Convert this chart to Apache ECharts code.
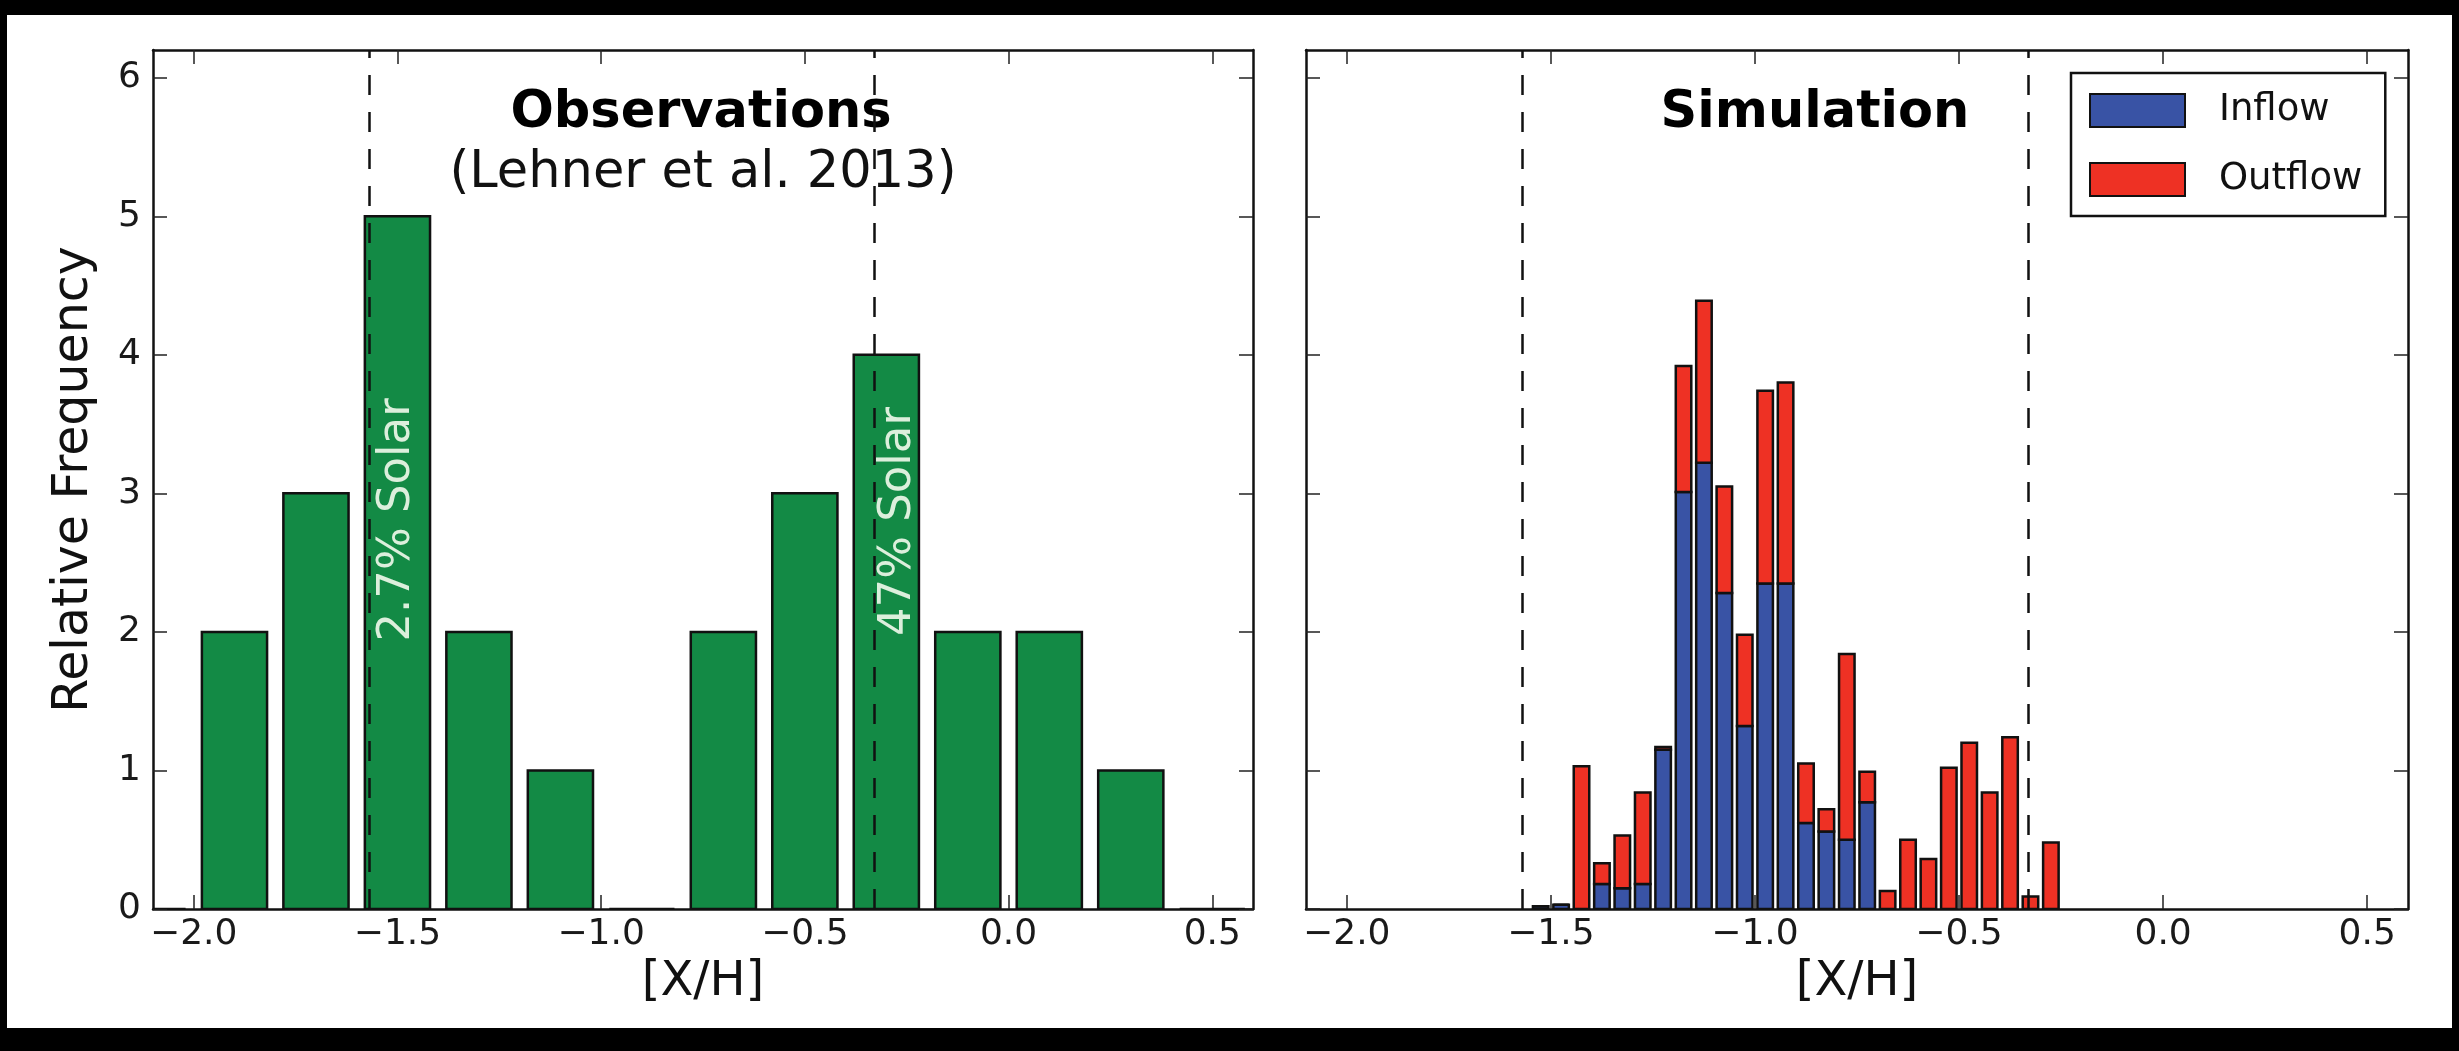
<!DOCTYPE html>
<html>
<head>
<meta charset="utf-8">
<title>Observations vs Simulation</title>
<script src="https://cdn.jsdelivr.net/npm/echarts@6/dist/echarts.min.js"></script>
<style>
    html, body { margin: 0; padding: 0; background: #000; }
    #paper { position: absolute; left: 7px; top: 15px; width: 2445px; height: 1013px; background: #fff; }
    #chart { position: absolute; left: 0; top: 0; width: 2459px; height: 1051px; }
</style>
</head>
<body>
<div id="paper"></div>
<div id="chart"></div>
<script>
// observations histogram (bins of 0.2 in [X/H])
var obsCenters = [-2.1, -1.9, -1.7, -1.5, -1.3, -1.1, -0.9, -0.7, -0.5, -0.3, -0.1, 0.1, 0.3, 0.5];
var obsCounts = [0, 2, 3, 5, 2, 1, 0, 2, 3, 4, 2, 2, 1, 0];

// simulation histogram (bins of 0.05), inflow stacked under outflow
var simCenters = [-1.525, -1.475, -1.425, -1.375, -1.325, -1.275, -1.225, -1.175, -1.125, -1.075,
    -1.025, -0.975, -0.925, -0.875, -0.825, -0.775, -0.725, -0.675, -0.625, -0.575,
    -0.525, -0.475, -0.425, -0.375, -0.325, -0.275];
var simInflow = [0.02, 0.03, 0, 0.18, 0.15, 0.18, 1.15, 3.01, 3.22, 2.28,
    1.32, 2.35, 2.35, 0.62, 0.56, 0.50, 0.77, 0, 0, 0,
    0, 0, 0, 0, 0, 0];
var simOutflow = [0, 0, 1.03, 0.15, 0.38, 0.66, 0.02, 0.91, 1.17, 0.77,
    0.66, 1.39, 1.45, 0.43, 0.16, 1.34, 0.22, 0.13, 0.50, 0.36,
    1.02, 1.20, 0.84, 1.24, 0.09, 0.48];

var xTicks = [-2.0, -1.5, -1.0, -0.5, 0.0, 0.5];
var yTicks = [0, 1, 2, 3, 4, 5, 6];

// solar reference lines
var solarLines = [-1.569, -0.328];
var solarLabels = ['2.7% Solar', '47% Solar'];
var solarLabelX = [-1.50, -0.27];
var solarLabelY = [1.93, 1.97];

var FONT = '"DejaVu Sans", "Liberation Sans", sans-serif';
var obsBarWidth = 0.16;
var simBarWidth = 0.038;

function fmtX(v) {
    return (v < 0 ? '\u2212' : '') + Math.abs(v).toFixed(1);
}

function barItem(width) {
    return function (params, api) {
        var x = api.value(0);
        var tl = api.coord([x - width / 2, api.value(2)]);
        var br = api.coord([x + width / 2, api.value(1)]);
        return {
            type: 'rect',
            shape: {x: tl[0], y: tl[1], width: br[0] - tl[0], height: br[1] - tl[1]},
            style: {fill: api.visual('color'), stroke: '#111', lineWidth: 2.5}
        };
    };
}

function xAxisFor(gridIndex, pos) {
    var bottom = pos === 'bottom';
    return {
        type: 'value',
        gridIndex: gridIndex,
        position: pos,
        min: -2.1,
        max: 0.6,
        axisLine: {show: true, onZero: false, lineStyle: {color: '#111', width: 2.5}},
        axisTick: {show: true, inside: true, length: 14, customValues: xTicks,
            lineStyle: {color: '#222', width: 1.5}},
        axisLabel: {show: bottom, customValues: xTicks, formatter: fmtX, margin: 8,
            fontSize: 36, fontFamily: FONT, color: '#1a1a1a'},
        splitLine: {show: false},
        name: bottom ? '[X/H]' : '',
        nameLocation: 'middle',
        nameGap: 50,
        nameTextStyle: {fontSize: 48, fontFamily: FONT, color: '#111'}
    };
}

function yAxisFor(gridIndex, pos, labels) {
    return {
        type: 'value',
        gridIndex: gridIndex,
        position: pos,
        min: 0,
        max: 6.2,
        axisLine: {show: true, onZero: false, lineStyle: {color: '#111', width: 2.5}},
        axisTick: {show: true, inside: true, length: 14, customValues: yTicks,
            lineStyle: {color: '#222', width: 1.5}},
        axisLabel: {show: labels, customValues: yTicks, margin: 12,
            fontSize: 36, fontFamily: FONT, color: '#1a1a1a'},
        splitLine: {show: false},
        name: labels ? 'Relative Frequency' : '',
        nameLocation: 'middle',
        nameGap: 54,
        nameTextStyle: {fontSize: 49, fontFamily: FONT, color: '#111'}
    };
}

function dashedLines(axisIndex) {
    return {
        type: 'line',
        xAxisIndex: axisIndex,
        yAxisIndex: axisIndex,
        data: [],
        silent: true,
        z: 5,
        markLine: {
            symbol: ['none', 'none'],
            silent: true,
            animation: false,
            label: {show: false},
            lineStyle: {type: [20, 17], color: '#111', width: 2.5},
            data: solarLines.map(function (v) { return {xAxis: v}; })
        }
    };
}

var dom = document.getElementById('chart');
var myChart = echarts.init(dom);
var option = {
    animation: false,
    backgroundColor: 'transparent',
    grid: [
        {left: 153, top: 50, width: 1100, height: 859},
        {left: 1306, top: 50, width: 1102, height: 859}
    ],
    xAxis: [xAxisFor(0, 'bottom'), xAxisFor(0, 'top'), xAxisFor(1, 'bottom'), xAxisFor(1, 'top')],
    yAxis: [yAxisFor(0, 'left', true), yAxisFor(0, 'right', false), yAxisFor(1, 'left', false), yAxisFor(1, 'right', false)],
    legend: {
        data: ['Inflow', 'Outflow'],
        orient: 'vertical',
        left: 2071,
        top: 73,
        padding: [19, 23, 18, 18],
        itemGap: 32,
        itemWidth: 95,
        itemHeight: 33,
        icon: 'rect',
        selectedMode: false,
        borderColor: '#111',
        borderWidth: 2.5,
        borderRadius: 0,
        backgroundColor: '#fff',
        itemStyle: {borderColor: '#111', borderWidth: 2},
        textStyle: {fontSize: 37, fontFamily: FONT, color: '#111', padding: [0, 0, 0, 29], lineHeight: 33}
    },
    graphic: [
        {type: 'text', x: 701, y: 114, style: {text: 'Observations', font: 'bold 51px ' + FONT,
            fill: '#000', align: 'center', textAlign: 'center', verticalAlign: 'middle', textVerticalAlign: 'middle'}},
        {type: 'text', x: 703, y: 174, style: {text: '(Lehner et al. 2013)', font: '51px ' + FONT,
            fill: '#111', align: 'center', textAlign: 'center', verticalAlign: 'middle', textVerticalAlign: 'middle'}},
        {type: 'text', x: 1815, y: 114, style: {text: 'Simulation', font: 'bold 51px ' + FONT,
            fill: '#000', align: 'center', textAlign: 'center', verticalAlign: 'middle', textVerticalAlign: 'middle'}}
    ],
    series: [
        {
            name: 'Observations',
            type: 'custom',
            xAxisIndex: 0,
            yAxisIndex: 0,
            clip: true,
            itemStyle: {color: '#138a45'},
            encode: {x: 0, y: [1, 2]},
            renderItem: barItem(obsBarWidth),
            data: obsCenters.map(function (c, i) { return [c, 0, obsCounts[i]]; })
        },
        {
            name: 'Inflow',
            type: 'custom',
            xAxisIndex: 2,
            yAxisIndex: 2,
            clip: true,
            itemStyle: {color: '#3953a5'},
            encode: {x: 0, y: [1, 2]},
            renderItem: barItem(simBarWidth),
            data: simCenters.map(function (c, i) { return [c, 0, simInflow[i]]; })
        },
        {
            name: 'Outflow',
            type: 'custom',
            xAxisIndex: 2,
            yAxisIndex: 2,
            clip: true,
            itemStyle: {color: '#ee3124'},
            encode: {x: 0, y: [1, 2]},
            renderItem: barItem(simBarWidth),
            data: simCenters.map(function (c, i) { return [c, simInflow[i], simInflow[i] + simOutflow[i]]; })
        },
        dashedLines(0),
        dashedLines(2),
        {
            type: 'custom',
            xAxisIndex: 0,
            yAxisIndex: 0,
            silent: true,
            z: 6,
            data: solarLabels.map(function (t, i) { return [solarLabelX[i], solarLabelY[i]]; }),
            renderItem: function (params, api) {
                var p = api.coord([api.value(0), api.value(1)]);
                return {
                    type: 'text',
                    x: p[0],
                    y: p[1],
                    rotation: Math.PI / 2,
                    style: {
                        text: solarLabels[params.dataIndex],
                        fill: '#dcefdc',
                        font: '45px ' + FONT,
                        align: 'left', textAlign: 'left',
                        verticalAlign: 'middle', textVerticalAlign: 'middle'
                    }
                };
            }
        }
    ]
};

if (option && typeof option === "object") {
    myChart.setOption(option, true);
}
</script>
</body>
</html>
